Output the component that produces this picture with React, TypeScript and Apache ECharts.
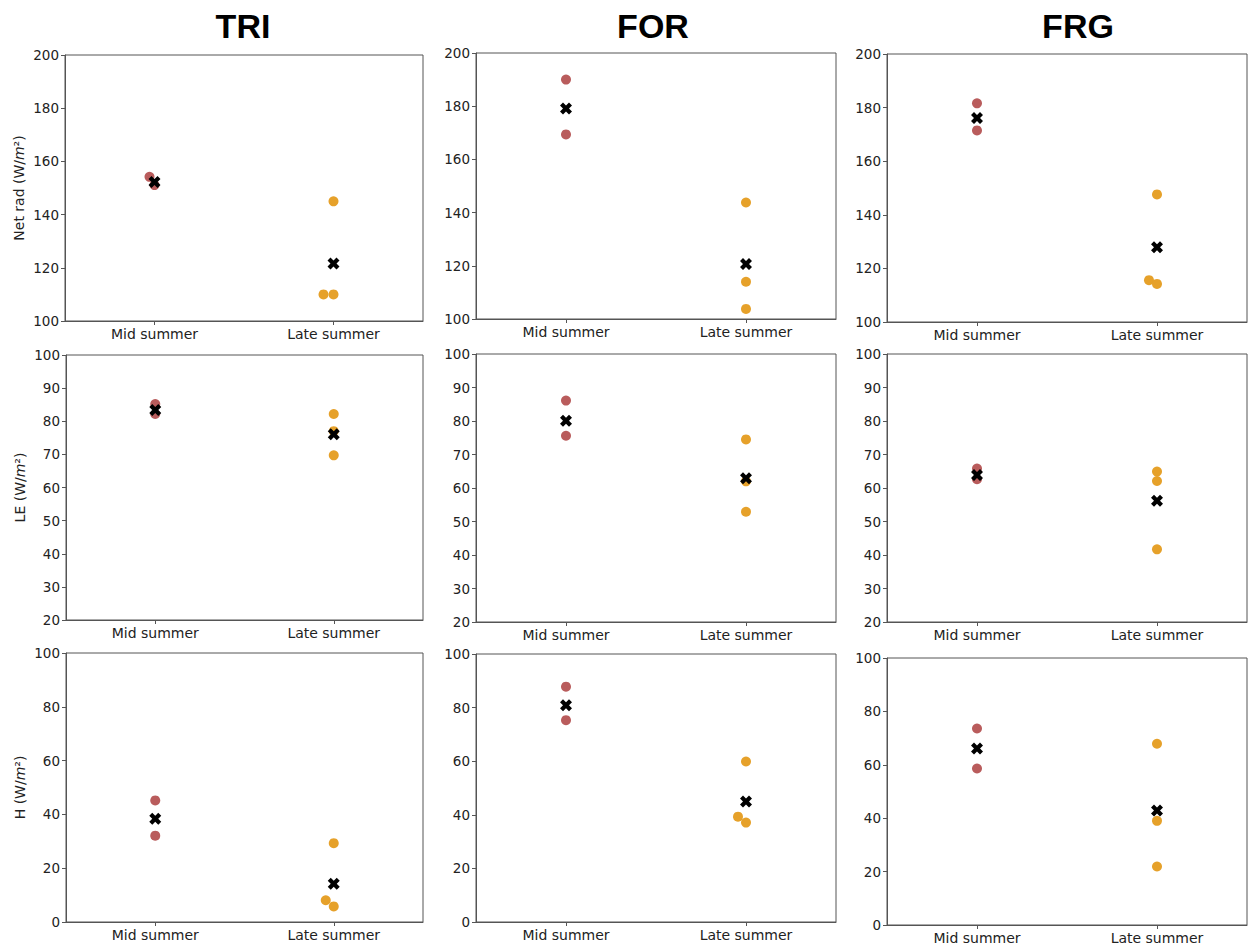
import React, { useEffect, useRef } from "react";
import * as echarts from "echarts";

// ---- data ----
const sites = ["TRI", "FOR", "FRG"];
const categories = ["Mid summer", "Late summer"];

// per site: [TRI, FOR, FRG]
const netRadMid = [[154.2, 151.1], [190.0, 169.4], [181.6, 171.5]];
const netRadLate = [[145.0, 110.0, 110.0], [143.8, 114.0, 103.8], [147.6, 115.6, 114.2]];
const netRadMean = [[152.3, 121.6], [179.1, 120.7], [176.1, 127.9]];

const leMid = [[85.2, 82.2], [86.1, 75.6], [65.8, 62.6]];
const leLate = [[82.2, 77.0, 69.7], [74.5, 62.0, 52.9], [64.9, 62.1, 41.7]];
const leMean = [[83.4, 76.1], [80.1, 62.9], [63.9, 56.2]];

const hMid = [[45.2, 32.1], [87.8, 75.3], [73.6, 58.6]];
const hLate = [[29.3, 8.1, 5.8], [59.9, 39.3, 37.1], [67.9, 39.0, 21.9]];
const hMean = [[38.4, 14.2], [80.9, 45.0], [66.1, 42.9]];

const yTicksNetRad = [100, 200, 20];
const yTicksLE = [20, 100, 10];
const yTicksH = [0, 100, 20];

// ---- layout / style (not data) ----
const midDodge = [[-5, 0], [0, 0], [0, 0], [0, 0], [0, 0], [0, 0], [0, 0], [0, 0], [0, 0]];
const lateDodge = [
  [0, -10, 0], [0, 0, 0], [0, -8, 0],
  [0, 0, 0], [0, 0, 0], [0, 0, 0],
  [0, -8, 0], [0, -8, 0], [0, 0, 0],
];
const rects = [
  [65, 55, 358, 266], [476, 53, 360, 266], [887, 54, 360, 268],
  [66, 355, 357, 265], [476, 354, 360, 268], [887, 354, 360, 268],
  [66, 653, 357, 269], [476, 654, 360, 268], [887, 658, 360, 267],
];
const titleX = [238, 648, 1073];
const RED = "#b95c5c";
const ORANGE = "#e6a12a";
const AXIS = "#555";
const TXT = "#222";
const FONT = "DejaVu Sans";
const X_PATH = "path://M2.5,0 L5,2.5 L7.5,0 L10,2.5 L7.5,5 L10,7.5 L7.5,10 L5,7.5 L2.5,10 L0,7.5 L2.5,5 L0,2.5 Z";

const rows = [
  { name: "Net rad", mid: netRadMid, late: netRadLate, mean: netRadMean, ticks: yTicksNetRad },
  { name: "LE", mid: leMid, late: leLate, mean: leMean, ticks: yTicksLE },
  { name: "H", mid: hMid, late: hLate, mean: hMean, ticks: yTicksH },
];

function buildOption() {
  const grid: any[] = [];
  const xAxis: any[] = [];
  const yAxis: any[] = [];
  const series: any[] = [];
  rows.forEach((row, r) => {
    sites.forEach((_s, c) => {
      const idx = r * 3 + c;
      const [left, top, width, height] = rects[idx];
      grid.push({ left, top, width, height, show: true, borderColor: AXIS, borderWidth: 1, backgroundColor: "transparent" });
      xAxis.push({
        type: "category",
        gridIndex: idx,
        data: categories,
        boundaryGap: true,
        axisLine: { show: true, lineStyle: { color: AXIS } },
        axisTick: { show: true, alignWithLabel: true, length: 4, lineStyle: { color: AXIS } },
        axisLabel: { fontSize: 14, color: TXT, margin: 6, fontFamily: FONT },
        splitLine: { show: false },
      });
      yAxis.push({
        type: "value",
        gridIndex: idx,
        min: row.ticks[0],
        max: row.ticks[1],
        interval: row.ticks[2],
        splitLine: { show: false },
        axisLine: { show: true, lineStyle: { color: AXIS } },
        axisTick: { show: true, length: 4, lineStyle: { color: AXIS } },
        axisLabel: { fontSize: 13.5, color: TXT, margin: 6, fontFamily: FONT },
        name: c === 0 ? row.name + " (W/{i|m}²)" : "",
        nameLocation: "middle",
        nameGap: 39,
        nameRotate: 90,
        nameTextStyle: {
          fontSize: 14,
          color: TXT,
          fontFamily: FONT,
          rich: { i: { fontStyle: "italic", fontSize: 14, color: TXT, fontFamily: FONT } },
        },
      });
      series.push({
        type: "scatter",
        xAxisIndex: idx,
        yAxisIndex: idx,
        symbolSize: 10,
        itemStyle: { color: RED, opacity: 1 },
        data: row.mid[c].map((v, i) => ({ value: [0, v], symbolOffset: [midDodge[idx][i] || 0, 0] })),
        z: 2,
      });
      series.push({
        type: "scatter",
        xAxisIndex: idx,
        yAxisIndex: idx,
        symbolSize: 10,
        itemStyle: { color: ORANGE, opacity: 1 },
        data: row.late[c].map((v, i) => ({ value: [1, v], symbolOffset: [lateDodge[idx][i] || 0, 0] })),
        z: 2,
      });
      series.push({
        type: "scatter",
        xAxisIndex: idx,
        yAxisIndex: idx,
        symbol: X_PATH,
        symbolSize: 12,
        itemStyle: { color: "#000", opacity: 1 },
        data: row.mean[c].map((v, i) => [i, v]),
        z: 3,
      });
    });
  });
  const title = sites.map((s, c) => ({
    text: s,
    left: titleX[c],
    top: 4,
    textAlign: "center",
    textStyle: { fontSize: 34, fontWeight: "bold", color: "#000", fontFamily: "Liberation Sans, Arial, sans-serif" },
  }));
  return {
    animation: false,
    backgroundColor: "#fff",
    textStyle: { fontFamily: FONT },
    title,
    grid,
    xAxis,
    yAxis,
    series,
  };
}

export default function App() {
  const ref = useRef<HTMLDivElement>(null);
  useEffect(() => {
    if (!ref.current) return;
    const chart = echarts.init(ref.current, undefined, { renderer: "svg" });
    chart.setOption(buildOption() as any);
    return () => chart.dispose();
  }, []);
  return (
    <div
      ref={ref}
      style={{ position: "absolute", left: 0, top: 0, width: 1248, height: 950, background: "#fff" }}
    />
  );
}
